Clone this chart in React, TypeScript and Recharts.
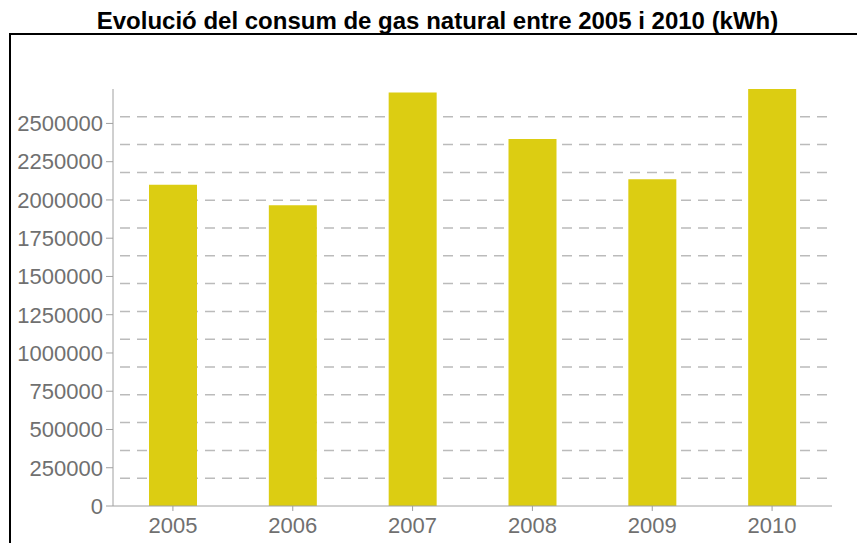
import React from 'react';
import { BarChart, Bar, XAxis, YAxis, CartesianGrid } from 'recharts';

const years = ['2005', '2006', '2007', '2008', '2009', '2010'];
const consumption = [2099000, 1966000, 2702000, 2398000, 2136000, 2725000];
const yTicks = [0, 250000, 500000, 750000, 1000000, 1250000, 1500000, 1750000, 2000000, 2250000, 2500000];

const data = years.map((year, i) => ({ year, value: consumption[i] }));

// the dashed grid in the original splits the axis into 15 equal bands, not on the ticks
const yMax = Math.max(...consumption);
const gridValues = Array.from({ length: 14 }, (_, i) => ((i + 1) * yMax) / 15);

const FONT = '"Liberation Sans", Arial, Helvetica, sans-serif';
const AXIS = '#a0a0a0';
const TICK_TEXT = '#707070';

export default function App() {
  return (
    <div
      style={{
        position: 'fixed',
        top: 0,
        left: 0,
        width: 857,
        height: 543,
        overflow: 'hidden',
        background: '#fff',
        fontFamily: FONT,
      }}
    >
      <div
        style={{
          position: 'absolute',
          top: 8,
          left: 8,
          width: 859,
          height: 25,
          lineHeight: '25px',
          textAlign: 'center',
          fontWeight: 'bold',
          fontSize: 24,
          color: '#000',
        }}
      >
        Evolució del consum de gas natural entre 2005 i 2010 (kWh)
      </div>
      <div
        style={{
          position: 'absolute',
          top: 33,
          left: 9,
          width: 900,
          height: 600,
          borderTop: '2px solid #000',
          borderLeft: '2px solid #000',
        }}
      >
        <BarChart
          width={850}
          height={510}
          data={data}
          margin={{ top: 54, right: 29, bottom: 0, left: 0 }}
        >
          <CartesianGrid
            vertical={false}
            horizontalValues={gridValues}
            stroke="#bbbbbb"
            strokeWidth={1.5}
            strokeDasharray="10 7"
            strokeDashoffset={10}
          />
          <XAxis
            dataKey="year"
            height={39}
            stroke={AXIS}
            tickSize={5}
            tickMargin={6}
            tick={{ fill: TICK_TEXT, fontSize: 22, fontFamily: FONT }}
          />
          <YAxis
            width={102}
            domain={[0, 'dataMax']}
            ticks={yTicks}
            interval={0}
            stroke={AXIS}
            tickSize={7}
            tickMargin={3}
            tick={{ fill: TICK_TEXT, fontSize: 22, fontFamily: FONT }}
          />
          <Bar dataKey="value" fill="#dccd12" barSize={48} isAnimationActive={false} />
        </BarChart>
      </div>
    </div>
  );
}
